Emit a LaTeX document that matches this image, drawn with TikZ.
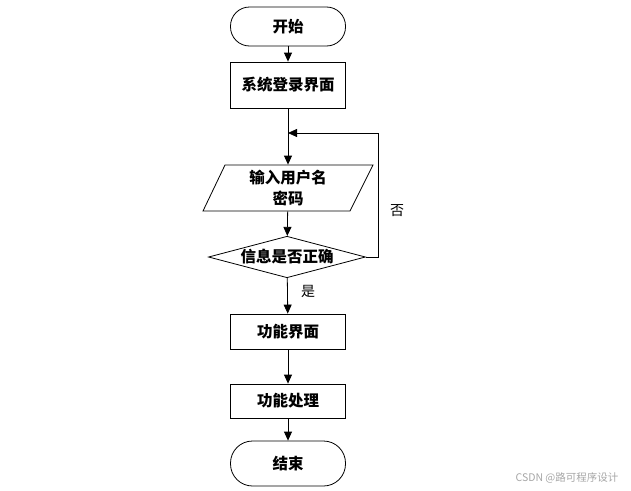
\documentclass[tikz,border=0pt]{standalone}
\usepackage{fontspec}
\newfontfamily\cjk{Noto Sans CJK SC}
\usetikzlibrary{shapes.geometric,arrows.meta}

\tikzset{
    term/.style={draw, rounded corners=19pt, minimum width=115pt, minimum height=39pt, font=\cjk\bfseries\fontsize{15.5}{18}\selectfont},
    proc/.style={draw, minimum width=115pt, font=\cjk\bfseries\fontsize{15.5}{18}\selectfont},
    check/.style={draw, diamond, aspect=3.5, minimum width=157pt, inner sep=0pt, font=\cjk\bfseries\fontsize{15.5}{18}\selectfont},
    arrow/.style={-{Triangle[width=8pt,length=9pt]}},
    tag/.style={font=\cjk\fontsize{14}{16}\selectfont}
}

\begin{document}
\begin{tikzpicture}[x=1pt, y=-1pt, line width=0.8pt]
    \useasboundingbox (0,0) rectangle (631,490);
    \node[term] (start) at (288, 26.5) {开始};
    \node[proc, minimum height=46pt] (login) at (288, 85) {系统登录界面};
    \node[align=center, inner sep=0pt, minimum width=147pt, minimum height=46pt,
          font=\cjk\bfseries\fontsize{15.5}{21}\selectfont] (input) at (288, 188) {输入用户名\\密码};
    \draw (203, 211) -- (225, 165) -- (373, 165) -- (350, 211) -- cycle;
    \node[check] (chk) at (287, 257) {信息是否正确};
    \node[proc, minimum height=35pt] (func) at (288, 331.5) {功能界面};
    \node[proc, minimum height=34pt] (work) at (288, 401) {功能处理};
    \node[term, minimum height=45pt, rounded corners=22pt] (stop) at (288, 463.5) {结束};
    \coordinate (join) at (288, 133);
    \coordinate (corner) at (378, 133);
    \draw[arrow] (start) -- (login);
    \draw[arrow] (login) -- (input);
    \draw[arrow] (input) -- (chk);
    \draw[arrow] (chk) -- (func) node[tag, pos=0.38, right=10pt] {是};
    \draw[arrow] (func) -- (work);
    \draw[arrow] (work) -- (stop);
    \draw[arrow] (chk.east) -| (corner) -- (join);
    \node[tag] (no) at (397, 211) {否};
    \node[font=\cjk\fontsize{10.5}{12}\selectfont, text=black!35] (mark) at (567, 478) {CSDN @路可程序设计};
\end{tikzpicture}
\end{document}
